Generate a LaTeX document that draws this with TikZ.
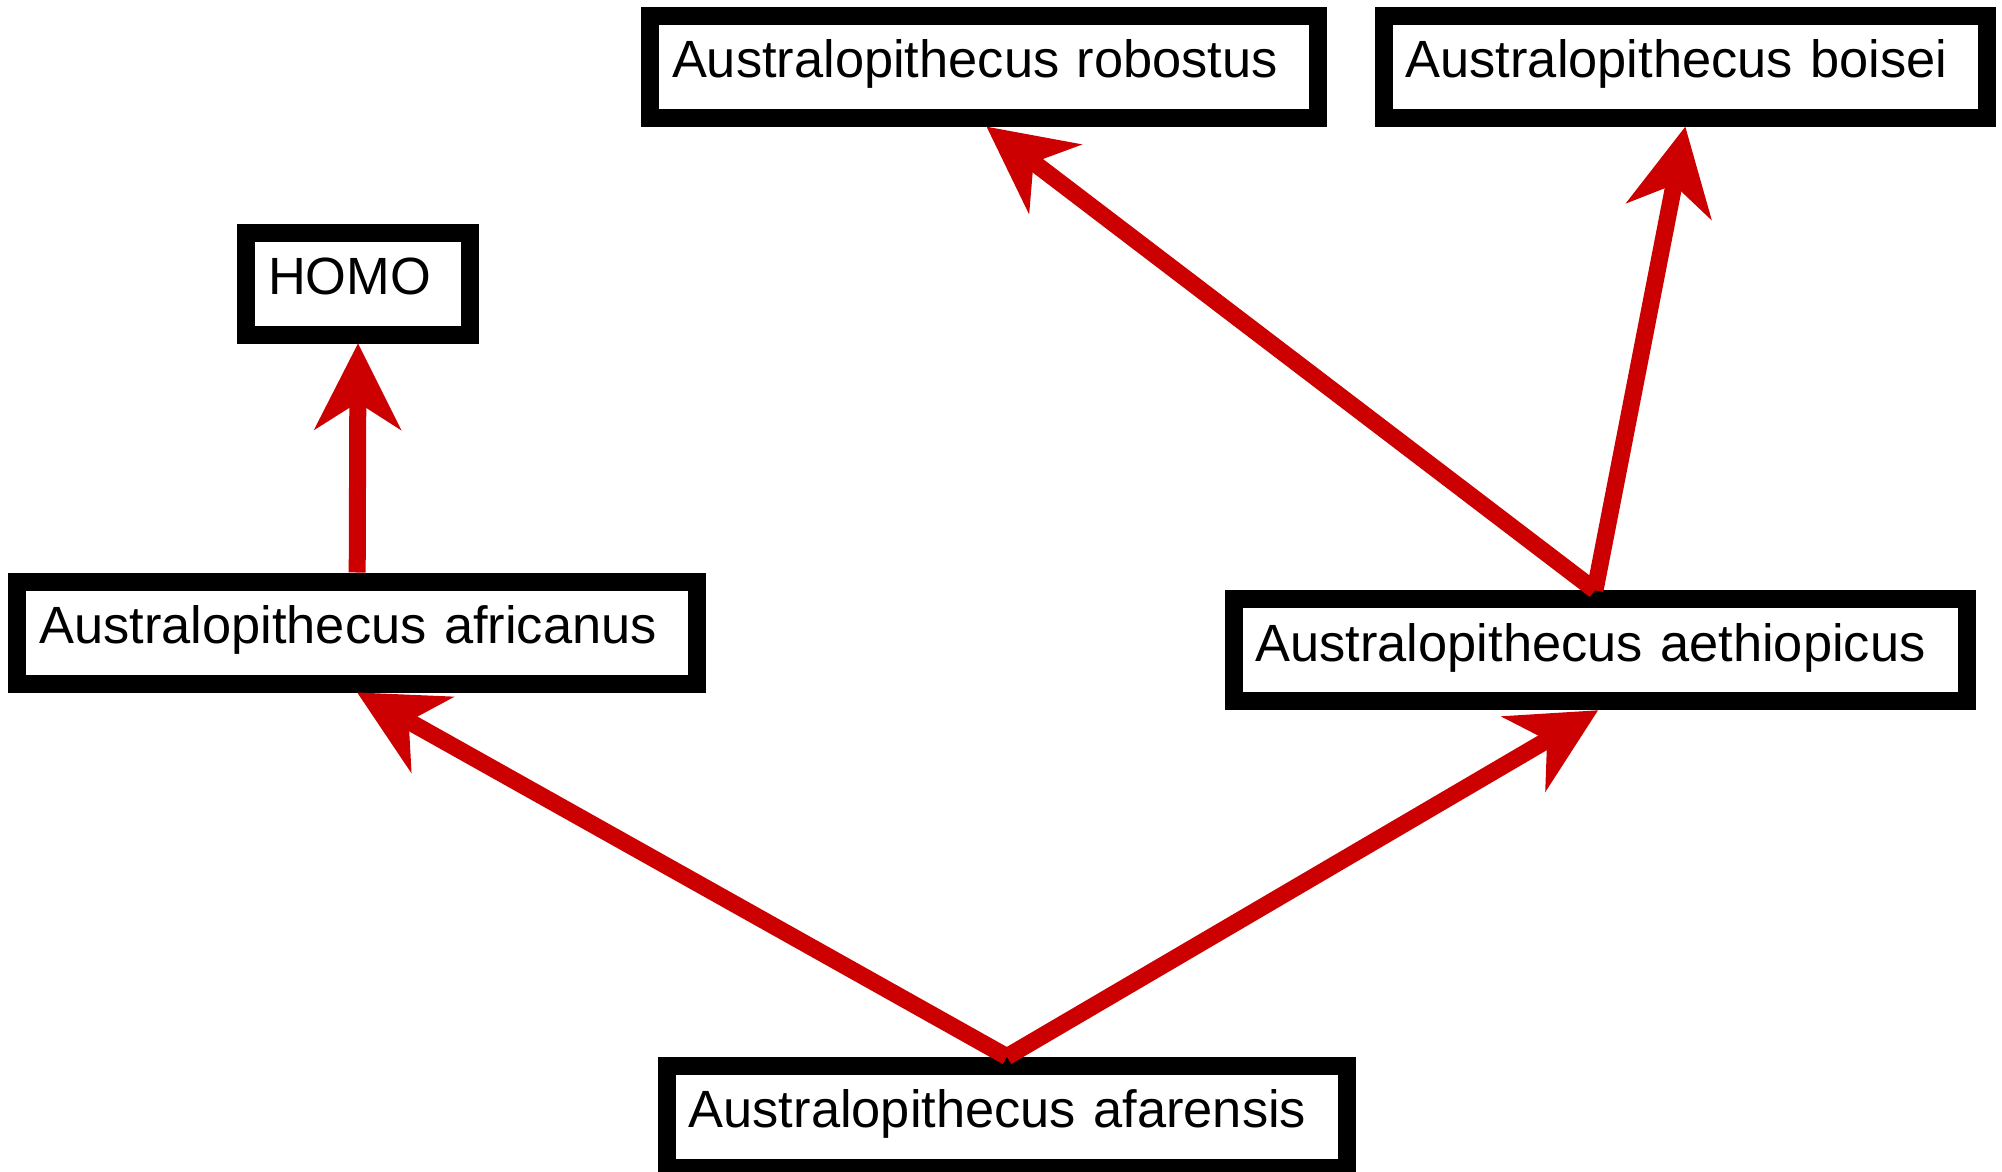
\documentclass[tikz,border=0pt]{standalone}
\usepackage{fontspec}
\setmainfont{Liberation Sans}
\usetikzlibrary{arrows.meta}
\definecolor{arrowred}{HTML}{CC0000}
\begin{document}
\begin{tikzpicture}[x=0.5pt,y=-0.5pt,
  taxon/.style={draw=black, line width=9pt, fill=white, rectangle,
    inner xsep=11pt, inner ysep=0pt, text height=31pt, text depth=20pt,
    align=left, font=\fontsize{26.2}{30}\selectfont},
  link/.style={draw=arrowred, line width=8.5pt, line cap=butt,
    -{Stealth[length=43.5pt, width=44pt, inset=14pt, line width=0pt]}}]
\useasboundingbox (0,0) rectangle (2002,1172);
\clip (0,0) rectangle (2002,1172);
\node[taxon, text width=312pt] (rob) at (984,66.7) {Australopithecus robostus};
\node[taxon, text width=279.7pt] (boi) at (1685.3,66.7) {Australopithecus boisei};
\node[taxon, text width=90pt] (homo) at (358,283.5) {HOMO};
\node[taxon, text width=317.9pt] (afr) at (357.2,632.5) {Australopithecus africanus};
\node[taxon, text width=344.5pt] (aeth) at (1600,650.3) {Australopithecus aethiopicus};
\node[taxon, text width=318.2pt] (afar) at (1006.9,1116.7) {Australopithecus afarensis};
\draw[link] (afar.north) -- (afr.south);
\draw[link] (afar.north) -- ([xshift=-1pt]aeth.south);
\draw[link] (afr.north) -- (homo.south);
\draw[link] ([xshift=-2.5pt]aeth.north) -- ([xshift=1.3pt]rob.south);
\draw[link] ([xshift=-2.5pt]aeth.north) -- (boi.south);
\end{tikzpicture}
\end{document}
